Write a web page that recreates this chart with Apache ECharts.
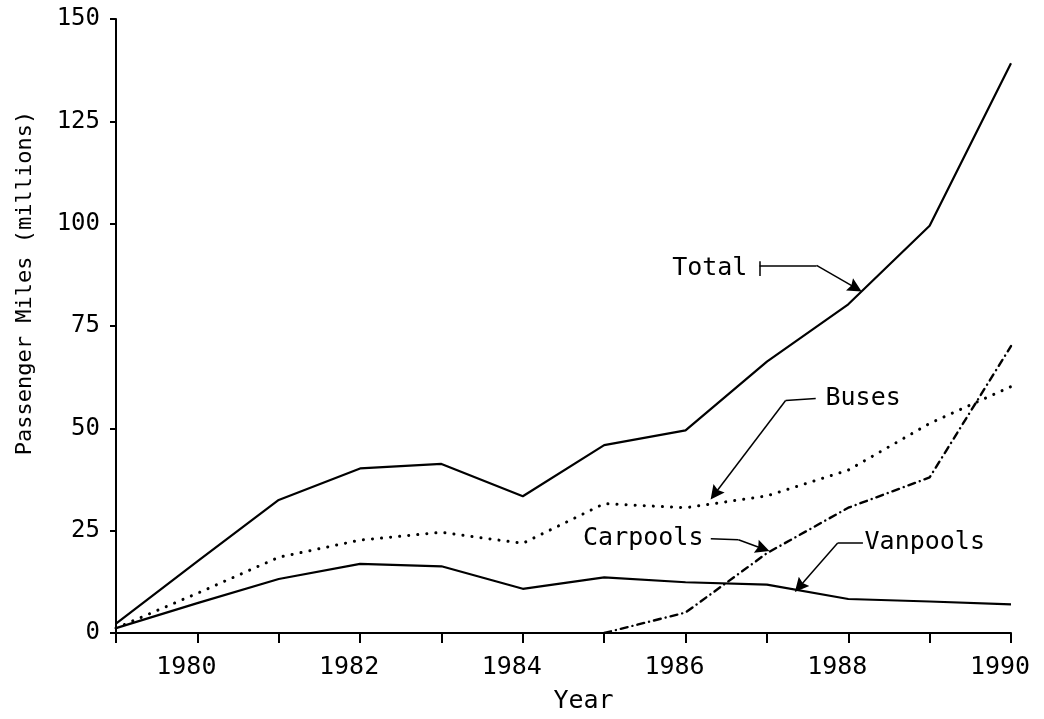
<!DOCTYPE html>
<html>
<head>
<meta charset="utf-8">
<script src="https://cdn.jsdelivr.net/npm/echarts@6/dist/echarts.min.js"></script>
<style>html,body{margin:0;padding:0;background:#fff}#c{width:1044px;height:719px}</style>
</head>
<body>
<div id="c"></div>
<script>
// ---- data ----
const years    = [1979, 1980, 1981, 1982, 1983, 1984, 1985, 1986, 1987, 1988, 1989, 1990];
const total    = [2.3, 17.5, 32.5, 40.2, 41.3, 33.4, 45.9, 49.5, 66.3, 80.3, 99.5, 139.2];
const buses    = [1.2, 9.7, 18.5, 22.7, 24.6, 21.9, 31.6, 30.6, 33.5, 39.8, 51.2, 60.2];
const vanpools = [1.2, 7.3, 13.2, 16.9, 16.3, 10.8, 13.6, 12.4, 11.8, 8.3, 7.7, 7.0];
const carpoolYears = [1985, 1986, 1987, 1988, 1989, 1990];
const carpools     = [0, 5.0, 19.5, 30.6, 38.0, 70.1];
const yTicks = [0, 25, 50, 75, 100, 125, 150];
const xLabelYears = [1980, 1982, 1984, 1986, 1988, 1990];
const seriesNames = ['Total', 'Buses', 'Carpools', 'Vanpools'];

// ---- annotation placement (data coordinates) ----
const annotText = [
  {name: 'Total',    coord: [1986.76, 89.1], side: 'left'},
  {name: 'Buses',    coord: [1987.72, 57.2], side: 'right'},
  {name: 'Carpools', coord: [1986.22, 23.1], side: 'left'},
  {name: 'Vanpools', coord: [1988.20, 22.0], side: 'right'}
];
const leaderPlain = [
  [[1986.91, 90.8], [1986.91, 87.2]],
  [[1986.91, 89.8], [1987.61, 89.8]],
  [[1987.60, 57.3], [1987.23, 56.8]],
  [[1986.31, 23.0], [1986.65, 22.8]],
  [[1988.18, 22.0], [1987.87, 22.0]]
];
const leaderArrow = [
  [[1987.61, 89.8], [1988.09, 84.3]],
  [[1987.23, 56.8], [1986.36, 34.0]],
  [[1986.65, 22.8], [1986.95, 20.6]],
  [[1987.87, 22.0], [1987.40, 11.3]]
];

const FONT = 'DejaVu Sans Mono';
const zip = (xs, ys) => xs.map((x, i) => [x, ys[i]]);

const chart = echarts.init(document.getElementById('c'), null, {renderer: 'canvas'});
chart.setOption({
  animation: false,
  backgroundColor: '#fff',
  grid: {left: 116, right: 33, top: 19, bottom: 85, containLabel: false},
  xAxis: {
    type: 'value', min: 1979, max: 1990, interval: 1,
    name: 'Year', nameLocation: 'middle', nameGap: 56,
    nameTextStyle: {fontFamily: FONT, fontSize: 25, color: '#000', padding: [0, 0, 0, 40]},
    axisLine: {show: true, onZero: false, lineStyle: {color: '#000', width: 2}},
    axisTick: {show: true, inside: false, length: 10, lineStyle: {color: '#000', width: 2}},
    axisLabel: {
      fontFamily: FONT, fontSize: 25, color: '#000', margin: 22, padding: [0, 22, 0, 0],
      formatter: v => xLabelYears.indexOf(v) >= 0 ? String(v) : ''
    },
    splitLine: {show: false}
  },
  yAxis: {
    type: 'value', min: 0, max: 150, interval: 25,
    name: 'Passenger Miles (millions)', nameLocation: 'middle', nameGap: 80, nameRotate: 90,
    nameTextStyle: {fontFamily: FONT, fontSize: 22, color: '#000', padding: [0, 0, 0, 86]},
    axisLine: {show: true, lineStyle: {color: '#000', width: 2}},
    axisTick: {show: true, inside: false, length: 6, lineStyle: {color: '#000', width: 2}},
    axisLabel: {fontFamily: FONT, fontSize: 24, color: '#000', margin: 16,
      formatter: v => yTicks.indexOf(v) >= 0 ? String(v) : ''},
    splitLine: {show: false}
  },
  series: [
    {name: seriesNames[0], type: 'line', data: zip(years, total), symbol: 'none',
     lineStyle: {color: '#000', width: 2.2}},
    {name: seriesNames[1], type: 'line', data: zip(years, buses), symbol: 'none',
     lineStyle: {color: '#000', width: 3, type: [0.1, 9], cap: 'round'}},
    {name: seriesNames[2], type: 'line', data: zip(carpoolYears, carpools), symbol: 'none',
     lineStyle: {color: '#000', width: 2.4, type: [7, 5, 0.1, 5], cap: 'round'}},
    {name: seriesNames[3], type: 'line', data: zip(years, vanpools), symbol: 'none',
     lineStyle: {color: '#000', width: 2.2}},
    {type: 'lines', coordinateSystem: 'cartesian2d', polyline: false, silent: true,
     symbol: 'none',
     lineStyle: {color: '#000', width: 1.5, opacity: 1, curveness: 0},
     data: leaderPlain.map(c => ({coords: c}))},
    {type: 'lines', coordinateSystem: 'cartesian2d', polyline: false, silent: true,
     symbol: ['none', 'path://M3,0 L6,20 L3,17 L0,20 Z'], symbolSize: 14, symbolKeepAspect: true,
     itemStyle: {color: '#000'},
     lineStyle: {color: '#000', width: 1.5, opacity: 1, curveness: 0},
     data: leaderArrow.map(c => ({coords: c}))},
    {type: 'scatter', silent: true, symbolSize: 0, itemStyle: {color: '#000'},
     label: {show: true, color: '#000', fontFamily: FONT, fontSize: 25, distance: 0},
     data: annotText.map(a => ({value: a.coord, name: a.name,
       label: {show: true, position: a.side, distance: 0, formatter: a.name,
               fontFamily: FONT, fontSize: 25, color: '#000', opacity: 1}}))}
  ]
});
</script>
</body>
</html>
